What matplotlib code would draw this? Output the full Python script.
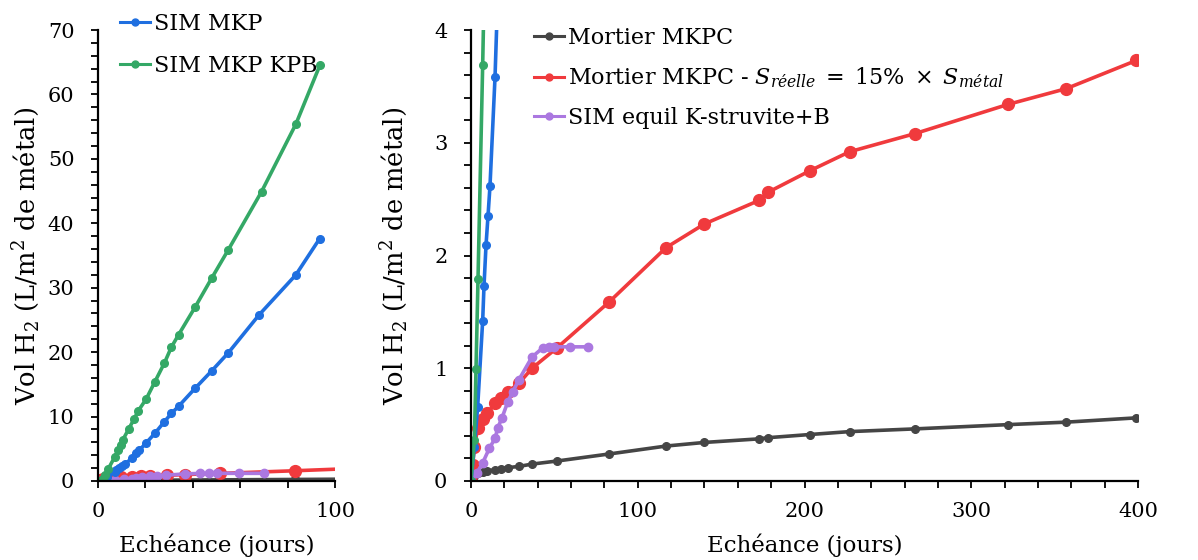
import matplotlib
matplotlib.use('Agg')
import matplotlib.pyplot as plt
from matplotlib.ticker import MultipleLocator

plt.rcParams['font.family'] = ['DejaVu Serif']
plt.rcParams['mathtext.fontset'] = 'dejavuserif'

# --- data ---
mkp_t = [0, 2, 4, 7, 7.8, 9, 10.2, 11.4, 14.4, 16, 17.5, 20.3, 24, 28, 31, 34, 41, 48, 55, 68, 83.5, 93.5]
mkp_v = [0, 0.3, 0.66, 1.42, 1.73, 2.09, 2.35, 2.62, 3.58, 4.3, 4.8, 5.9, 7.4, 9.2, 10.5, 11.6, 14.4, 17.1, 19.9, 25.8, 32.0, 37.6]

kpb_t = [0, 2, 3, 4.2, 7, 8.5, 9.5, 10.5, 13, 15.2, 17, 20.3, 24, 28, 31, 34, 41, 48, 55, 69, 83.5, 93.7]
kpb_v = [0, 0.36, 0.99, 1.79, 3.69, 4.8, 5.6, 6.4, 8.1, 9.6, 10.9, 12.7, 15.4, 18.3, 20.8, 22.7, 27.0, 31.5, 35.9, 44.9, 55.4, 64.6]

mortier_t = [0, 1, 2, 4, 7, 9.6, 14.5, 18, 22, 29, 36.6, 51.5, 83, 117, 140, 173, 178, 203, 227, 266, 322, 357, 399]
mortier_v = [0, 0.02, 0.045, 0.07, 0.077, 0.09, 0.1, 0.11, 0.118, 0.13, 0.15, 0.177, 0.24, 0.31, 0.342, 0.374,
             0.384, 0.412, 0.438, 0.462, 0.5, 0.522, 0.56]
mortier15_v = [0, 0.14, 0.3, 0.47, 0.55, 0.6, 0.69, 0.74, 0.79, 0.87, 1.0, 1.18, 1.59, 2.07, 2.28, 2.49,
               2.56, 2.75, 2.92, 3.08, 3.34, 3.48, 3.73]

equil_t = [0, 3.5, 7, 11, 14.5, 16, 18.6, 22, 25, 28.8, 36.6, 43, 47, 50, 59.4, 70]
equil_v = [0, 0.07, 0.16, 0.29, 0.38, 0.47, 0.56, 0.7, 0.79, 0.9, 1.1, 1.18, 1.19, 1.19, 1.19, 1.19]

c_blue = '#1f6fe0'
c_green = '#34a866'
c_red = '#f03a3d'
c_purple = '#ab78e0'
c_gray = '#454545'
lw = 2.6
fs = 16

fig = plt.figure(figsize=(11.98, 5.6), dpi=100)
ax1 = fig.add_axes([98 / 1198, 1 - 481 / 560, (335 - 98) / 1198, 451 / 560])
ax2 = fig.add_axes([471 / 1198, 1 - 481 / 560, (1138 - 471) / 1198, 451 / 560])

ylabel = 'Vol H$_\\mathregular{2}$ (L/m$^\\mathregular{2}$ de métal)'
red_label = 'Mortier MKPC - $S_{r\\acute{e}elle}\\;=\\;15\\%\\;\\times\\;S_{m\\acute{e}tal}$'


def draw_series(ax):
    lines = {}
    lines['gray'], = ax.plot(mortier_t, mortier_v, color=c_gray, lw=lw, marker='o', ms=5.5, label='Mortier MKPC')
    lines['red'], = ax.plot(mortier_t, mortier15_v, color=c_red, lw=lw, marker='o', ms=8.5, label=red_label)
    lines['purple'], = ax.plot(equil_t, equil_v, color=c_purple, lw=lw, marker='o', ms=6, label='SIM equil K-struvite+B')
    lines['blue'], = ax.plot(mkp_t, mkp_v, color=c_blue, lw=lw, marker='o', ms=5.5, label='SIM MKP')
    lines['green'], = ax.plot(kpb_t, kpb_v, color=c_green, lw=lw, marker='o', ms=5.5, label='SIM MKP KPB')
    return lines


def style_axis(ax):
    for s in ['top', 'right']:
        ax.spines[s].set_visible(False)
    for s in ['left', 'bottom']:
        ax.spines[s].set_linewidth(1.6)
        ax.spines[s].set_color('black')
    ax.tick_params(which='both', direction='out', length=5, width=1.3, labelsize=15)
    ax.tick_params(axis='x', which='both', pad=10)
    ax.tick_params(axis='y', which='both', pad=12)
    ax.set_xlabel('Echéance (jours)', fontsize=16.5, labelpad=9)
    ax.set_ylabel(ylabel, fontsize=18.5)


l1 = draw_series(ax1)
ax1.set_xlim(0, 100)
ax1.set_ylim(0, 70)
ax1.xaxis.set_major_locator(MultipleLocator(100))
ax1.xaxis.set_minor_locator(MultipleLocator(20))
ax1.yaxis.set_major_locator(MultipleLocator(10))
ax1.yaxis.set_minor_locator(MultipleLocator(2))
style_axis(ax1)
ax1.yaxis.set_label_coords(-0.236, 0.5)

leg1 = ax1.legend(handles=[l1['blue'], l1['green']], loc='upper left', frameon=False, fontsize=fs,
                  bbox_to_anchor=(111 / 1198, 1 - 4 / 560), bbox_transform=fig.transFigure,
                  handlelength=1.35, handletextpad=0.2, labelspacing=0.9, borderaxespad=0.0)

l2 = draw_series(ax2)
ax2.set_xlim(0, 400)
ax2.set_ylim(0, 4)
ax2.xaxis.set_major_locator(MultipleLocator(100))
ax2.xaxis.set_minor_locator(MultipleLocator(20))
ax2.yaxis.set_major_locator(MultipleLocator(1))
ax2.yaxis.set_minor_locator(MultipleLocator(0.2))
style_axis(ax2)
ax2.yaxis.set_label_coords(-0.091, 0.5)

leg2 = ax2.legend(handles=[l2['gray'], l2['red'], l2['purple']], loc='upper left', frameon=False, fontsize=fs,
                  bbox_to_anchor=(525 / 1198, 1 - 18 / 560), bbox_transform=fig.transFigure,
                  handlelength=1.35, handletextpad=0.2, labelspacing=0.75, borderaxespad=0.0)

for leg in (leg1, leg2):
    for h in leg.get_lines():
        h.set_markersize(5)
        h.set_linewidth(2.2)

fig.savefig('out.png', dpi=100)
